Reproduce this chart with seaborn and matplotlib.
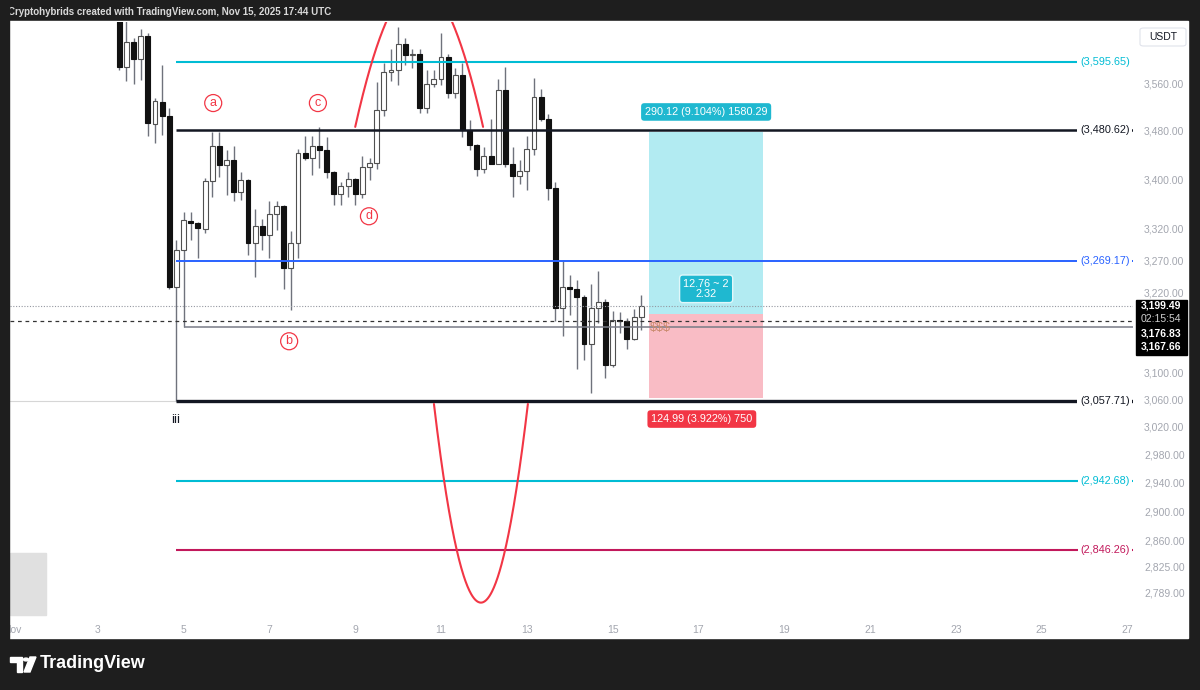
import numpy as np
import pandas as pd
import matplotlib
matplotlib.use('Agg')
import matplotlib.pyplot as plt
import matplotlib.ticker as mticker
from matplotlib.patches import Rectangle, Polygon, Circle, FancyBboxPatch
import seaborn as sns

# 4h candles, ETH/USDT, starting Nov 3 12:00 UTC
opens = [3690, 3588, 3630, 3602, 3641, 3491, 3528, 3505, 3229, 3287,
         3333, 3330, 3320, 3397, 3454, 3423, 3431, 3379, 3398, 3298,
         3325, 3310, 3343, 3357, 3259, 3298, 3442, 3434, 3454, 3447,
         3412, 3375, 3388, 3400, 3375, 3420, 3427, 3514, 3578, 3582,
         3627, 3608, 3610, 3517, 3558, 3566, 3605, 3543, 3574, 3481,
         3456, 3416, 3437, 3425, 3548, 3425, 3405, 3413, 3450, 3536,
         3500, 3385, 3196, 3229, 3226, 3214, 3142, 3196, 3206, 3111,
         3178, 3176, 3150, 3182]
highs = [3712, 3668, 3637, 3653, 3646, 3534, 3590, 3518, 3302, 3347,
         3347, 3331, 3402, 3478, 3478, 3448, 3454, 3412, 3400, 3351,
         3335, 3364, 3364, 3358, 3316, 3449, 3470, 3470, 3485, 3469,
         3413, 3396, 3412, 3401, 3437, 3434, 3562, 3594, 3619, 3656,
         3637, 3619, 3619, 3582, 3582, 3646, 3610, 3586, 3594, 3497,
         3457, 3453, 3499, 3566, 3587, 3453, 3431, 3470, 3569, 3549,
         3507, 3395, 3271, 3248, 3240, 3216, 3234, 3254, 3210, 3192,
         3191, 3181, 3195, 3216]
lows = [3582, 3563, 3558, 3565, 3471, 3460, 3472, 3225, 3057.71, 3167.66,
        3302, 3274, 3313, 3371, 3404, 3374, 3364, 3366, 3279, 3245,
        3287, 3274, 3318, 3225, 3194, 3274, 3431, 3407, 3418, 3401,
        3358, 3358, 3371, 3358, 3369, 3398, 3416, 3505, 3563, 3556,
        3591, 3585, 3509, 3509, 3554, 3556, 3534, 3534, 3469, 3447,
        3405, 3410, 3424, 3424, 3420, 3371, 3392, 3382, 3440, 3495,
        3366, 3176, 3154, 3186, 3105, 3118, 3069, 3173, 3091, 3108,
        3158, 3135, 3148, 3163]
closes = [3588, 3630, 3602, 3641, 3492, 3530, 3505, 3229, 3287, 3334,
          3330, 3321, 3397, 3454, 3423, 3431, 3379, 3398, 3298, 3325,
          3310, 3343, 3357, 3259, 3298, 3442, 3434, 3454, 3447, 3412,
          3375, 3388, 3400, 3375, 3420, 3427, 3514, 3578, 3582, 3627,
          3608, 3610, 3517, 3558, 3566, 3605, 3543, 3574, 3481, 3456,
          3416, 3437, 3425, 3548, 3425, 3405, 3413, 3450, 3536, 3500,
          3385, 3196, 3229, 3226, 3214, 3142, 3196, 3206, 3111, 3178,
          3176, 3150, 3182, 3199.49]

levels = [3595.65, 3480.62, 3269.17, 3057.71, 2942.68, 2846.26]
level_colors = ['#00bcd4', '#131722', '#2962ff', '#131722', '#00bcd4', '#c2185b']
level_widths = [1.5, 1.8, 1.4, 2.4, 1.5, 1.5]

price_ticks = [3560, 3480, 3400, 3320, 3270, 3220, 3100, 3060, 3020,
               2980, 2940, 2900, 2860, 2825, 2789]
date_ticks = [1, 3, 5, 7, 9, 11, 13, 15, 17, 19, 21, 23, 25, 27]
date_labels = ['Nov', '3', '5', '7', '9', '11', '13', '15', '17', '19',
               '21', '23', '25', '27']

last_price = 3199.49
countdown = '02:15:54'
avg_price = 3176.83
ray_price = 3167.66

entry = 3186.8
target = entry + 290.12
stop = entry - 124.99
pos_start, pos_end = 15.85, 18.51

wave_labels = [('a', 5.69, 3526), ('c', 8.13, 3526), ('d', 9.32, 3340), ('b', 7.46, 3146)]

times = pd.date_range('2025-11-03 12:00', periods=len(closes), freq='4h')
xs = 1 + (times - pd.Timestamp('2025-11-01')) / pd.Timedelta('1D')
xs = np.asarray(xs, dtype=float)

W, H = 1200, 690
def fx(px):
    return px / W
def fy(py):
    return 1 - py / H

sns.set_theme(style='white')
plt.rcParams['font.family'] = ['Liberation Sans', 'DejaVu Sans']

fig = plt.figure(figsize=(12, 6.9), dpi=100, facecolor='#1e1e1e')
# white chart panel
fig.patches.append(Rectangle((fx(8), fy(638)), fx(1188 - 8), (638 - 21) / H,
                             transform=fig.transFigure, color='white', zorder=-5))
ax = fig.add_axes([fx(10), fy(615), fx(1133 - 10), (615 - 22) / H])
ax.set_facecolor('white')
ax.set_yscale('log')
ax.set_xlim(0.953, 27.13)
ax.set_ylim(2759.6, 3665.5)
for s in ax.spines.values():
    s.set_visible(False)

# candles
xstart_lvl = xs[8]
bull = np.array(closes) >= np.array(opens)
ax.vlines(xs, lows, highs, color='#6f727c', lw=1.0, zorder=3)
bottoms = np.minimum(opens, closes)
heights = np.maximum(np.abs(np.array(closes) - np.array(opens)), 1.5)
ax.bar(xs, heights, bottom=bottoms, width=0.115,
       color=['white' if b else '#111111' for b in bull],
       edgecolor=['#505050' if b else '#111111' for b in bull], lw=0.8, zorder=4)

# horizontal levels
ax.axhline(levels[3], color='#d6d6d6', lw=0.8, zorder=1)
for lv, c, lw in zip(levels, level_colors, level_widths):
    ax.hlines(lv, xstart_lvl, 27.13, color=c, lw=lw, zorder=5)
    ax.text(0.975, lv, f'({lv:,.2f})', transform=ax.get_yaxis_transform(),
            color=c, fontsize=7.8, ha='center', va='center', zorder=6,
            bbox=dict(boxstyle='square,pad=0.25', fc='white', ec='none'))

ax.axhline(last_price, color='#9598a1', lw=0.8, ls=(0, (1, 1.5)), zorder=5)
ax.axhline(avg_price, color='#333333', lw=0.9, ls=(0, (3, 3)), zorder=5)
ax.hlines(ray_price, xs[9], 27.13, color='#787b86', lw=1.1, zorder=5)

# position tool
ax.add_patch(Rectangle((pos_start, entry), pos_end - pos_start, target - entry,
                       color='#b2ebf2', lw=0, zorder=2))
ax.add_patch(Rectangle((pos_start, stop), pos_end - pos_start, entry - stop,
                       color='#f9bcc5', lw=0, zorder=2))
mid = (pos_start + pos_end) / 2
ax.text(mid, 3511, '290.12 (9.104%) 1580.29', color='white', fontsize=7.8,
        ha='center', va='center', zorder=7,
        bbox=dict(boxstyle='round,pad=0.35,rounding_size=0.3', fc='#1fb8d0', ec='none'))
ax.text(mid, 3226, '12.76 ~ 2\n2.32', color='white', fontsize=7.8, linespacing=1.0,
        ha='center', va='center', zorder=7,
        bbox=dict(boxstyle='round,pad=0.35,rounding_size=0.3', fc='#1fb8d0', ec='#e0f7fa', lw=1))
ax.text(mid - 0.1, 3031, '124.99 (3.922%) 750', color='white', fontsize=7.8,
        ha='center', va='center', zorder=7,
        bbox=dict(boxstyle='round,pad=0.35,rounding_size=0.3', fc='#f23645', ec='none'))
ax.text(15.88, 3166, '$$$', color='#c98a6c', fontsize=9, ha='left', va='center', zorder=6)

# wave labels
for t, x, y in wave_labels:
    ax.text(x, y, t, color='#f23645', fontsize=9, ha='center', va='center', zorder=7,
            bbox=dict(boxstyle='circle,pad=0.2', fc='white', ec='#f23645', lw=0.9))
ax.text(4.82, 3030, 'iii', color='#131722', fontsize=9.5, ha='center', va='center', zorder=7)

# red arcs
u = np.linspace(-1, 1, 200)
top_x = 10.49 + 1.49 * u
top_y = np.exp(np.log(3733) + (np.log(3486) - np.log(3733)) * u ** 2)
sns.lineplot(x=top_x, y=top_y, sort=False, estimator=None, color='#f23645', lw=1.5, ax=ax, zorder=6)
bot_x = 11.93 + 1.095 * u
bot_y = np.exp(np.log(2776) + (np.log(3053) - np.log(2776)) * u ** 2)
sns.lineplot(x=bot_x, y=bot_y, sort=False, estimator=None, color='#f23645', lw=1.5, ax=ax, zorder=6)

# axes ticks
ax.yaxis.tick_right()
ax.yaxis.set_major_locator(mticker.FixedLocator(price_ticks))
ax.yaxis.set_major_formatter(mticker.FuncFormatter(lambda v, p: f'{v:,.2f}'))
ax.yaxis.set_minor_locator(mticker.NullLocator())
ax.yaxis.set_minor_formatter(mticker.NullFormatter())
ax.set_xticks(date_ticks)
ax.set_xticklabels(date_labels)
ax.tick_params(axis='y', length=0, pad=8, labelsize=7.5, labelcolor='#a3a6af')
ax.tick_params(axis='x', length=0, pad=7, labelsize=7.5, labelcolor='#a3a6af')
ax.grid(False)

# grey widget placeholder
fig.patches.append(Rectangle((fx(10), fy(615)), fx(36), (615 - 553) / H,
                             transform=fig.transFigure, color='#e0e0e0', zorder=1))

# price axis badges
fig.patches.append(Rectangle((fx(1136), fy(355)), fx(51), 55 / H,
                             transform=fig.transFigure, color='black', zorder=8))
fig.text(fx(1161), fy(306), f'{last_price:,.2f}', color='white', fontsize=7.5,
         weight='bold', ha='center', va='center', zorder=9)
fig.text(fx(1161), fy(319), countdown, color='#d0d0d0', fontsize=7.5,
         ha='center', va='center', zorder=9)
fig.text(fx(1161), fy(333), f'{avg_price:,.2f}', color='white', fontsize=7.5,
         weight='bold', ha='center', va='center', zorder=9)
fig.text(fx(1161), fy(347), f'{ray_price:,.2f}', color='white', fontsize=7.5,
         weight='bold', ha='center', va='center', zorder=9)

fig.patches.append(FancyBboxPatch((fx(1140), fy(46)), fx(46), 18 / H,
                                  boxstyle='round,pad=0,rounding_size=0.003',
                                  transform=fig.transFigure,
                                  fc='white', ec='#e0e3eb', lw=0.8, zorder=8))
fig.text(fx(1163), fy(37), 'USDT', color='#131722', fontsize=7.5, ha='center',
         va='center', zorder=9)

# dark frame edges
fig.patches.append(Rectangle((0, 0), fx(9), 1, transform=fig.transFigure,
                             color='#1e1e1e', zorder=10))

# header and footer
fig.text(fx(8), fy(12), 'Cryptohybrids created with TradingView.com, Nov 15, 2025 17:44 UTC',
         color='#d9d9d9', fontsize=7.0, weight='bold', ha='left', va='center')
fig.patches.append(Polygon([(fx(10), fy(657)), (fx(22), fy(657)), (fx(22), fy(672)),
                            (fx(17), fy(672)), (fx(17), fy(662)), (fx(10), fy(662))],
                           closed=True, transform=fig.transFigure, color='white', zorder=10))
fig.patches.append(Circle((fx(26), fy(659.5)), 2.5 / W, transform=fig.transFigure,
                          color='white', zorder=10))
fig.patches.append(Polygon([(fx(30), fy(657)), (fx(36), fy(657)), (fx(30), fy(672)),
                            (fx(24), fy(672))], closed=True, transform=fig.transFigure,
                           color='white', zorder=10))
fig.text(fx(40), fy(664), 'TradingView', color='white', fontsize=13, weight='bold',
         ha='left', va='center')

fig.savefig('out.png', dpi=100, facecolor=fig.get_facecolor())
